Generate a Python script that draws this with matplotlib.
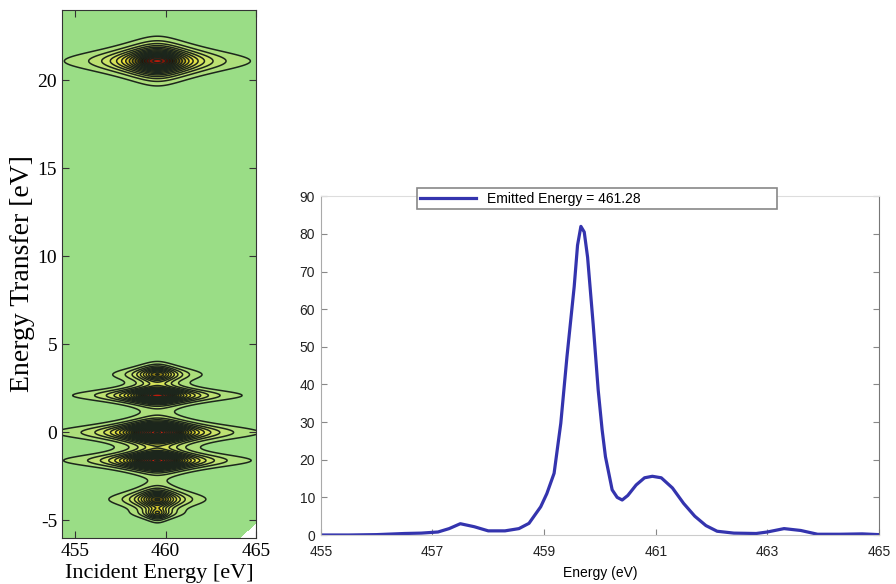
import numpy as np
import matplotlib.pyplot as plt
from matplotlib.colors import LinearSegmentedColormap

plt.rcParams['axes.unicode_minus'] = False

# ---- left panel: RIXS map, built from peaks ----
peak_center = 459.55                      # incident energy of every feature
peak_transfer = [21.1, 3.3, 2.1, 0.0, -1.6, -3.8, -4.6]
peak_height = [0.75, 0.45, 0.80, 1.00, 0.90, 0.50, 0.30]
peak_wx = [1.55, 0.95, 1.35, 1.45, 1.40, 1.00, 0.55]
peak_wy = [0.90, 0.55, 0.50, 0.62, 0.56, 0.66, 0.42]
y_power = 2.0
corner_x0, corner_slope = 464.1, 0.95     # blank corner lower right

# ---- right panel: spectrum at emitted energy 461.28 ----
energy = [455.0, 455.5, 456.0, 456.5, 456.8, 457.1, 457.3, 457.5, 457.75, 458.0,
          458.3, 458.55, 458.73, 458.94, 459.05, 459.18, 459.3, 459.41, 459.54, 459.6,
          459.66, 459.72, 459.78, 459.88, 459.97, 460.04, 460.1, 460.22, 460.31, 460.4,
          460.5, 460.65, 460.8, 460.94, 461.1, 461.3, 461.5, 461.7, 461.9, 462.1,
          462.4, 462.8, 463.0, 463.3, 463.6, 463.9, 464.3, 464.7, 465.0]
intensity = [0.0, 0.0, 0.1, 0.4, 0.5, 0.8, 1.7, 3.0, 2.2, 1.1,
             1.1, 1.7, 3.1, 7.5, 11.0, 16.4, 29.7, 47.3, 66.0, 77.0,
             82.0, 80.5, 73.8, 56.0, 38.5, 28.0, 20.8, 12.0, 10.0, 9.3,
             10.5, 13.3, 15.2, 15.6, 15.2, 12.5, 8.4, 5.0, 2.5, 1.0,
             0.5, 0.4, 0.8, 1.7, 1.2, 0.2, 0.2, 0.3, 0.1]

fig = plt.figure(figsize=(8.96, 5.84), dpi=100)

ax1 = fig.add_axes([0.0692, 0.0788, 0.2165, 0.904])
xi = np.linspace(454.28, 465, 400)
yt = np.linspace(-6, 24, 1000)
X, Y = np.meshgrid(xi, yt)
Z = np.zeros_like(X)
for y0, a, wx, wy in zip(peak_transfer, peak_height, peak_wx, peak_wy):
    Z += a / (1 + ((X - peak_center) / wx) ** 2) / (1 + ((Y - y0) / wy) ** 2) ** y_power
Z = np.ma.masked_where(Y < -6.0 + (X - corner_x0) * corner_slope, Z)

cmap = LinearSegmentedColormap.from_list(
    'rixs', [(0.0, '#8ddb8c'), (0.06, '#a6de80'), (0.18, '#cde468'),
             (0.32, '#f0e236'), (0.45, '#8a7612'), (0.56, '#1e1402'),
             (0.66, '#4a0a00'), (0.74, '#b81a0a'), (1.0, '#e02010')])
levels = np.linspace(0.0625, 1.0, 22)
ax1.set_facecolor('white')
ax1.contourf(X, Y, Z, levels=np.concatenate([[0], levels, [2]]), cmap=cmap,
             vmin=0, vmax=1.0)
ax1.contour(X, Y, Z, levels=levels, colors='#1c261c', linewidths=1.1)
ax1.set_xlim(454.28, 465)
ax1.set_ylim(-6, 24)
ax1.set_xticks([455, 460, 465])
ax1.set_yticks([-5, 0, 5, 10, 15, 20])
ax1.tick_params(direction='in', top=True, right=True, length=5, labelsize=14,
                color='#333333')
for lab in ax1.get_xticklabels() + ax1.get_yticklabels():
    lab.set_family('Liberation Serif')
ax1.set_xlabel('Incident Energy [eV]', family='Liberation Serif', fontsize=16, labelpad=3)
ax1.set_ylabel('Energy Transfer [eV]', family='Liberation Serif', fontsize=20, labelpad=2)
for s in ax1.spines.values():
    s.set_color('#333333')

ax2 = fig.add_axes([0.358, 0.0839, 0.623, 0.580])
ax2.plot(energy, intensity, color='#3434ae', lw=2.3, label='Emitted Energy = 461.28')
ax2.set_xlim(455, 465)
ax2.set_ylim(0, 90)
ax2.set_xticks([455, 457, 459, 461, 463, 465])
ax2.set_yticks(range(0, 91, 10))
ax2.tick_params(direction='in', right=True, length=4, labelsize=10,
                labelcolor='#222222', color='#888888')
ax2.tick_params(axis='x', pad=7)
ax2.tick_params(axis='y', pad=4)
ax2.set_xlabel('Energy (eV)', family='Liberation Sans', fontsize=10, labelpad=5)
for lab in ax2.get_xticklabels() + ax2.get_yticklabels():
    lab.set_family('Liberation Sans')
ax2.spines['top'].set_color('#dddddd')
ax2.spines['bottom'].set_color('#cccccc')
ax2.spines['left'].set_color('#aaaaaa')
ax2.spines['right'].set_color('#777777')
leg = ax2.legend(loc='lower left', bbox_to_anchor=(0.172, 0.962, 0.645, 0.062),
                 mode='expand', fancybox=False, borderaxespad=0, handlelength=4,
                 prop={'family': 'Liberation Sans', 'size': 10},
                 borderpad=0.25, framealpha=1)
leg.get_frame().set_edgecolor('#888888')
leg.get_frame().set_linewidth(1.2)

fig.savefig('out.png', dpi=100)
